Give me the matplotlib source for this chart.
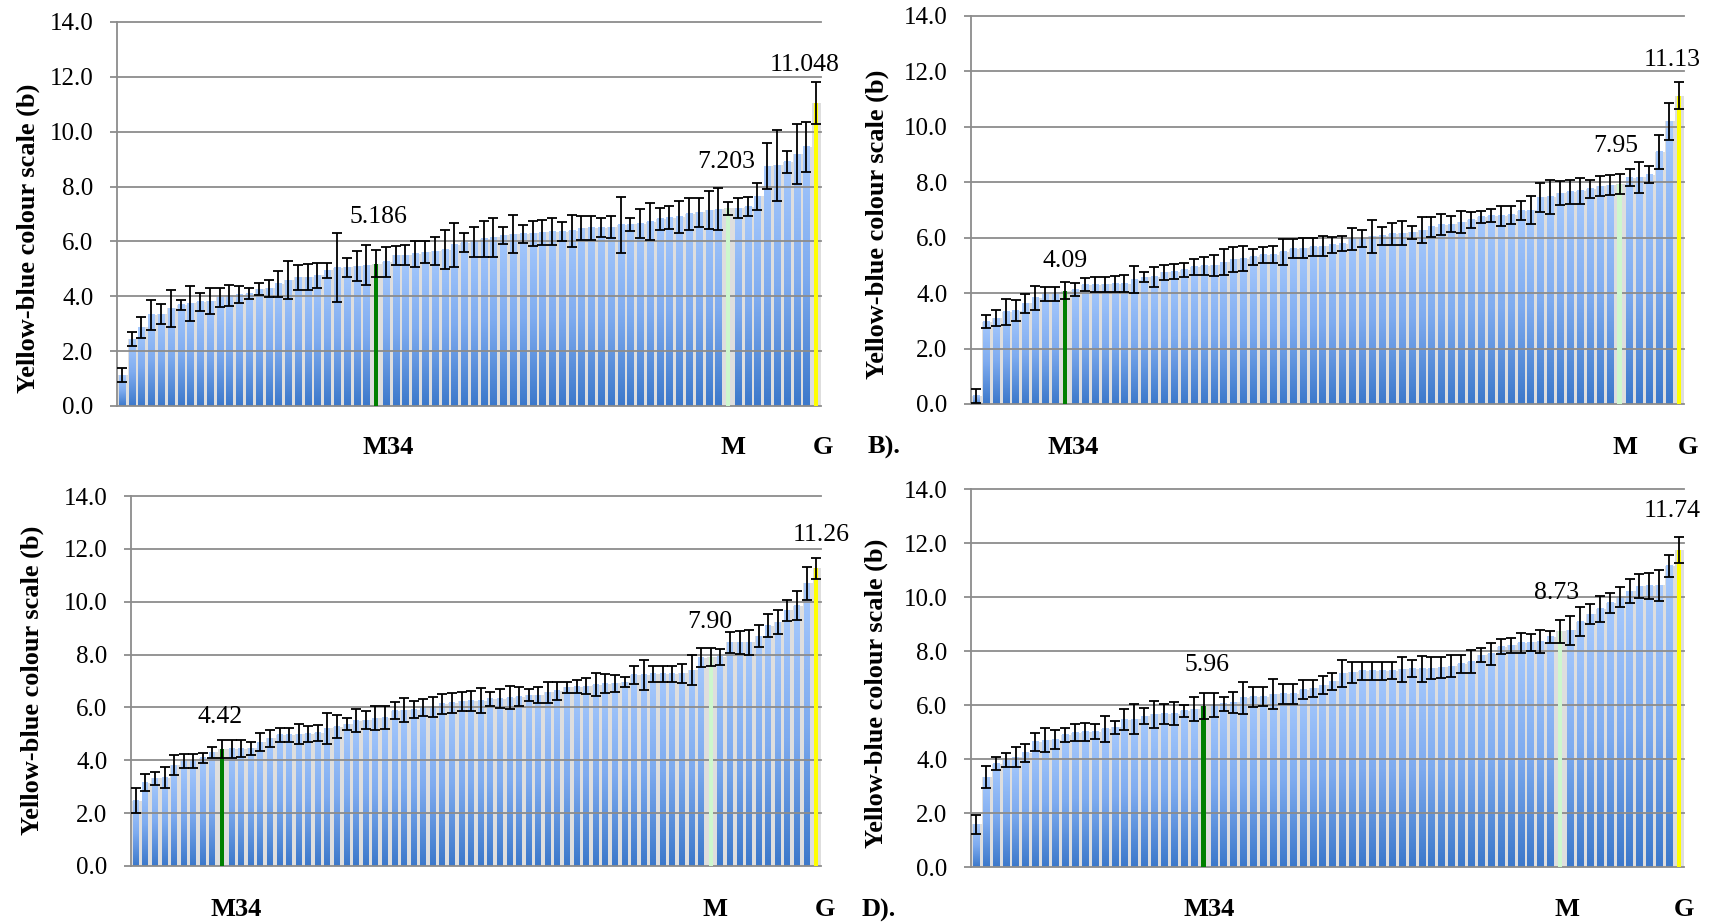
import numpy as np
import matplotlib
matplotlib.use('Agg')
import matplotlib.pyplot as plt
from matplotlib.colors import LinearSegmentedColormap

plt.rcParams['font.family'] = ['Liberation Serif', 'DejaVu Serif']

# ---------------- data ----------------
y_label = "Yellow-blue colour scale (b)"
category_labels = ["M34", "M", "G"]
y_ticks = [0, 2, 4, 6, 8, 10, 12, 14]

a_values = [1.13, 2.44, 2.87, 3.32, 3.35, 3.56, 3.69, 3.74, 3.80, 3.82,
            3.97, 4.02, 4.06, 4.09, 4.26, 4.29, 4.45, 4.59, 4.69, 4.70,
            4.76, 4.95, 5.04, 5.05, 5.10, 5.14, 5.186, 5.26, 5.49, 5.50,
            5.55, 5.61, 5.65, 5.70, 5.88, 5.96, 5.99, 6.10, 6.15, 6.22,
            6.27, 6.28, 6.30, 6.33, 6.35, 6.36, 6.39, 6.48, 6.49, 6.50,
            6.52, 6.60, 6.63, 6.65, 6.72, 6.82, 6.87, 6.90, 7.01, 7.07,
            7.14, 7.18, 7.203, 7.21, 7.27, 7.65, 8.74, 8.77, 8.90, 9.18,
            9.45, 11.048]
a_errors = [0.27, 0.24, 0.38, 0.55, 0.36, 0.67, 0.19, 0.63, 0.33, 0.47,
            0.35, 0.39, 0.32, 0.20, 0.21, 0.30, 0.49, 0.70, 0.46, 0.46,
            0.44, 0.28, 1.26, 0.33, 0.54, 0.73, 0.49, 0.55, 0.35, 0.36,
            0.47, 0.41, 0.50, 0.72, 0.80, 0.33, 0.55, 0.66, 0.70, 0.32,
            0.70, 0.32, 0.46, 0.46, 0.49, 0.36, 0.58, 0.44, 0.43, 0.35,
            0.41, 1.03, 0.24, 0.52, 0.67, 0.40, 0.43, 0.58, 0.59, 0.53,
            0.70, 0.76, 0.24, 0.36, 0.36, 0.49, 0.84, 1.29, 0.41, 1.10,
            0.91, 0.76]
a_highlight = [26, 62, 71]
a_value_labels = ["5.186", "7.203", "11.048"]

b_values = [0.29, 2.97, 3.10, 3.32, 3.37, 3.63, 3.83, 3.96, 3.96, 4.09,
            4.13, 4.30, 4.31, 4.32, 4.33, 4.34, 4.49, 4.58, 4.59, 4.75,
            4.78, 4.84, 4.95, 4.99, 5.00, 5.12, 5.22, 5.25, 5.32, 5.38,
            5.39, 5.49, 5.61, 5.62, 5.67, 5.70, 5.75, 5.79, 5.96, 5.98,
            6.05, 6.07, 6.14, 6.17, 6.20, 6.27, 6.40, 6.47, 6.48, 6.56,
            6.64, 6.75, 6.79, 6.80, 6.82, 6.98, 7.00, 7.46, 7.47, 7.61,
            7.65, 7.69, 7.76, 7.86, 7.90, 7.95, 8.16, 8.19, 8.27, 9.10,
            10.20, 11.13]
b_errors = [0.24, 0.24, 0.29, 0.46, 0.39, 0.34, 0.43, 0.26, 0.26, 0.30,
            0.25, 0.23, 0.27, 0.28, 0.28, 0.30, 0.49, 0.19, 0.36, 0.27,
            0.28, 0.26, 0.28, 0.33, 0.39, 0.46, 0.46, 0.46, 0.29, 0.30,
            0.31, 0.46, 0.34, 0.36, 0.32, 0.36, 0.29, 0.28, 0.39, 0.30,
            0.59, 0.33, 0.39, 0.45, 0.23, 0.47, 0.36, 0.38, 0.29, 0.39,
            0.30, 0.23, 0.24, 0.36, 0.32, 0.33, 0.50, 0.52, 0.63, 0.42,
            0.43, 0.46, 0.33, 0.37, 0.37, 0.36, 0.31, 0.56, 0.30, 0.62,
            0.67, 0.49]
b_highlight = [9, 65, 71]
b_value_labels = ["4.09", "7.95", "11.13"]

c_values = [2.47, 3.15, 3.32, 3.34, 3.82, 3.97, 3.98, 4.09, 4.30, 4.42,
            4.43, 4.44, 4.45, 4.69, 4.83, 4.96, 4.96, 4.99, 5.00, 5.04,
            5.21, 5.27, 5.36, 5.50, 5.52, 5.60, 5.61, 5.88, 5.90, 5.92,
            5.99, 6.02, 6.14, 6.17, 6.24, 6.25, 6.26, 6.32, 6.33, 6.37,
            6.41, 6.46, 6.47, 6.58, 6.63, 6.77, 6.78, 6.81, 6.86, 6.90,
            6.91, 6.96, 7.23, 7.24, 7.28, 7.28, 7.28, 7.29, 7.41, 7.88,
            7.90, 7.92, 8.46, 8.46, 8.47, 8.70, 9.10, 9.23, 9.68, 9.85,
            10.70, 11.26]
c_errors = [0.47, 0.33, 0.25, 0.40, 0.38, 0.28, 0.27, 0.20, 0.22, 0.33,
            0.35, 0.32, 0.25, 0.33, 0.32, 0.25, 0.25, 0.38, 0.30, 0.30,
            0.59, 0.44, 0.23, 0.44, 0.35, 0.45, 0.44, 0.32, 0.44, 0.33,
            0.32, 0.39, 0.37, 0.39, 0.36, 0.38, 0.47, 0.28, 0.36, 0.44,
            0.35, 0.23, 0.32, 0.40, 0.35, 0.21, 0.25, 0.30, 0.43, 0.37,
            0.32, 0.20, 0.35, 0.57, 0.30, 0.30, 0.30, 0.35, 0.57, 0.35,
            0.35, 0.30, 0.41, 0.44, 0.47, 0.42, 0.43, 0.45, 0.40, 0.54,
            0.62, 0.41]
c_highlight = [9, 60, 71]
c_value_labels = ["4.42", "7.90", "11.26"]

d_values = [1.58, 3.33, 3.83, 3.96, 4.07, 4.23, 4.64, 4.70, 4.72, 4.89,
            4.98, 5.00, 5.01, 5.12, 5.17, 5.46, 5.48, 5.59, 5.65, 5.67,
            5.68, 5.78, 5.85, 5.96, 6.00, 6.04, 6.11, 6.27, 6.30, 6.31,
            6.40, 6.41, 6.42, 6.56, 6.62, 6.74, 6.88, 7.17, 7.21, 7.26,
            7.26, 7.26, 7.27, 7.32, 7.35, 7.35, 7.37, 7.39, 7.44, 7.52,
            7.60, 7.85, 7.90, 8.16, 8.22, 8.30, 8.32, 8.35, 8.53, 8.73,
            8.77, 9.09, 9.37, 9.57, 9.78, 10.00, 10.21, 10.40, 10.41, 10.43,
            11.15, 11.74]
d_errors = [0.35, 0.41, 0.23, 0.27, 0.36, 0.33, 0.33, 0.43, 0.36, 0.25,
            0.33, 0.32, 0.28, 0.48, 0.25, 0.38, 0.56, 0.29, 0.51, 0.37,
            0.43, 0.23, 0.43, 0.49, 0.43, 0.25, 0.39, 0.60, 0.38, 0.35,
            0.56, 0.37, 0.37, 0.35, 0.31, 0.33, 0.32, 0.49, 0.40, 0.35,
            0.35, 0.35, 0.31, 0.45, 0.31, 0.48, 0.42, 0.40, 0.41, 0.34,
            0.43, 0.25, 0.41, 0.27, 0.28, 0.38, 0.31, 0.43, 0.22, 0.42,
            0.54, 0.53, 0.37, 0.48, 0.38, 0.38, 0.44, 0.45, 0.48, 0.57,
            0.41, 0.47]
d_highlight = [23, 59, 71]
d_value_labels = ["5.96", "8.73", "11.74"]

# ---------------- layout / style ----------------
W, H = 1711, 923
fig = plt.figure(figsize=(W / 100, H / 100), dpi=100)

GRID = '#8c8c8c'
SHADOW = '#dedede'
HL_COLORS = ['#008000', '#cdf7cd', '#ffff00']
bar_cmap = LinearSegmentedColormap.from_list('bars', ['#3d79cb', '#7eabef', '#a6c9fd'])
grad = np.linspace(0, 1, 64).reshape(-1, 1)

panels = [
    dict(box=(117, 821, 22, 406), vals=a_values, errs=a_errors, hl=a_highlight,
         vlab=a_value_labels, vlab_dx=[0.2, -0.15, -1.15], vlab_y=[6.67, 8.68, 12.22],
         cat_dx=[1.2, 0.5, 0.7], cat_dy=41, ylab=(28, 238)),
    dict(box=(971, 1684, 16, 404), vals=b_values, errs=b_errors, hl=b_highlight,
         vlab=b_value_labels, vlab_dx=[0.0, -0.4, -0.7], vlab_y=[4.95, 9.10, 12.20],
         cat_dx=[0.8, 0.55, 0.9], cat_dy=43, ylab=(877, 224)),
    dict(box=(131, 821, 496, 866), vals=c_values, errs=c_errors, hl=c_highlight,
         vlab=c_value_labels, vlab_dx=[-0.24, -0.14, 0.5], vlab_y=[5.42, 8.99, 12.31],
         cat_dx=[1.5, 0.45, 0.95], cat_dy=44, ylab=(32, 680)),
    dict(box=(971, 1684, 489, 867), vals=d_values, errs=d_errors, hl=d_highlight,
         vlab=d_value_labels, vlab_dx=[0.36, -0.38, -0.67], vlab_y=[7.27, 9.91, 12.97],
         cat_dx=[0.55, 0.7, 0.55], cat_dy=43, ylab=(876, 693)),
]

BAR_W = 0.62
HL_W = 0.45

for p in panels:
    l, r, t, b = p['box']
    ax = fig.add_axes([l / W, 1 - b / H, (r - l) / W, (b - t) / H])
    vals = np.array(p['vals'])
    errs = np.array(p['errs'])
    n = len(vals)
    x = np.arange(n)

    # shadow behind bars
    ax.bar(x + 0.12, vals, width=1.0, color=SHADOW, zorder=1, linewidth=0)

    # gradient bars
    for i in range(n):
        if i in p['hl']:
            continue
        ax.imshow(grad, extent=(i - BAR_W / 2, i + BAR_W / 2, 0, vals[i]),
                  cmap=bar_cmap, aspect='auto', origin='lower', zorder=2,
                  interpolation='bilinear', vmin=0, vmax=1)

    # gridlines
    for yt in y_ticks:
        ax.axhline(yt, color=GRID, lw=1.3, zorder=2.5, clip_on=False)

    # highlighted bars
    for idx, col in zip(p['hl'], HL_COLORS):
        ax.bar(idx, vals[idx], width=HL_W, color=col, zorder=3, linewidth=0)

    ax.errorbar(x, vals, yerr=errs, fmt='none', ecolor='black', elinewidth=1.3,
                capsize=3.6, capthick=1.3, zorder=4)

    ax.set_xlim(-0.5, n - 0.5)
    ax.set_ylim(0, 14)
    ax.set_xticks([])
    ax.set_yticks(y_ticks)
    ax.set_yticklabels([f'{v:.1f}' for v in y_ticks])
    ax.tick_params(axis='y', length=5, width=1.3, color=GRID, pad=12, labelsize=18)
    for s in ['top', 'right', 'bottom']:
        ax.spines[s].set_visible(False)
    ax.spines['left'].set_color(GRID)
    ax.spines['left'].set_linewidth(1.3)
    ax.spines['left'].set_zorder(2.6)
    ax.set_facecolor('white')

    # value labels
    for idx, txt, dx, yy in zip(p['hl'], p['vlab'], p['vlab_dx'], p['vlab_y']):
        ax.text(idx + dx, yy, txt, ha='center', va='baseline', fontsize=18.5,
                clip_on=False, zorder=5)

    # category labels
    for idx, txt, dx in zip(p['hl'], category_labels, p['cat_dx']):
        ax.annotate(txt, xy=(idx + dx, 0), xycoords=('data', 'axes fraction'),
                    xytext=(0, -p['cat_dy']), textcoords='offset pixels',
                    ha='center', va='center', fontsize=19, fontweight='bold',
                    annotation_clip=False)

    fig.text(p['ylab'][0] / W, 1 - p['ylab'][1] / H, y_label, rotation=90,
             ha='center', va='center', fontsize=19, fontweight='bold')

fig.text(884 / W, 1 - 447 / H, "B).", ha='center', va='center', fontsize=19, fontweight='bold')
fig.text(879 / W, 1 - 910 / H, "D).", ha='center', va='center', fontsize=19, fontweight='bold')

fig.savefig('out.png', dpi=100, facecolor='white')
